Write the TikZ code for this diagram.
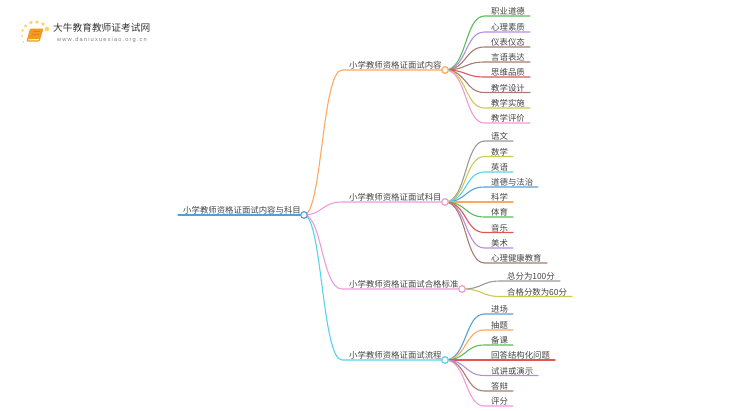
\documentclass[tikz,border=0pt]{standalone}
\usepackage{fontspec}
\setmainfont{Noto Sans CJK SC}
\newfontfamily\latinfont{Liberation Sans}
\definecolor{cgreen}{HTML}{5CBB5C}
\definecolor{cpurple}{HTML}{B48FDC}
\definecolor{cbrown}{HTML}{A87C70}
\definecolor{cred}{HTML}{E25555}
\definecolor{colive}{HTML}{CBCB50}
\definecolor{cpink}{HTML}{F29AD8}
\definecolor{cgray}{HTML}{9A9A9A}
\definecolor{ccyan}{HTML}{55D5E8}
\definecolor{cblue}{HTML}{5A9FD4}
\definecolor{corange}{HTML}{FFA860}
\definecolor{ctext}{HTML}{444444}
\definecolor{cbook}{HTML}{F09A20}
\definecolor{csun}{HTML}{FBD36A}
\tikzset{
  lbl/.style={anchor=base west,inner sep=0pt,text=ctext,font=\fontsize{8.4}{10}\selectfont},
  hub/.style={circle,draw=#1,fill=white,line width=1.1pt,minimum size=6.5pt,inner sep=0pt},
  wire/.style={line width=1.1pt,line cap=round},
}
\newcommand{\leafcurve}[7]{% hub, id, y, endx, colour, text, kneex
  \coordinate (#2s) at (#7,#3);
  \coordinate (#2e) at (#4,#3);
  \node[lbl] (#2) at ([xshift=6.5pt,yshift=1.4pt]#2s) {#6};
  \draw[wire,#5] (#1.center) .. controls ([xshift=22pt]#1.center) and ([xshift=-20pt]#2s) .. (#2s) -- (#2e);
}
\begin{document}
\begin{tikzpicture}[x=1pt,y=-1pt]
\useasboundingbox (0,0) rectangle (750,410);
% logo
\foreach \n/\px/\py/\r in {a/23.5/42/.9,b/22/36/1.1,c/22.5/30.5/1.4,d/25.5/26/1.7,e/31/22.5/1.9,f/37/22/1.9,g/43/24/1.9,h/47/29/2.2}
  \fill[csun] (\px,\py) circle (\r);
\fill[cbook,rounded corners=1pt] (30,28.5) -- (43.5,28.5) -- (39.5,41.5) -- (26.5,41.5) -- cycle;
\fill[white,opacity=.8] (28.5,39.2) -- (39,39.2) -- (38.7,40.4) -- (28.2,40.4) -- cycle;
\draw[orange!60!brown,line width=.6pt] (33,31.5) -- (40,31.5) (32.4,34) -- (39.2,34);
\node[inner sep=0pt,anchor=base west,text=black!80,font=\fontsize{9.7}{11}\selectfont] (title) at (53,31.5) {大牛教育教师证考试网};
\node[inner sep=0pt,anchor=base west,text=black!50,font=\latinfont\fontsize{5.7}{7}\selectfont] (url) at (57,41.5) {\addfontfeature{LetterSpace=20}www.daniuxuexiao.org.cn};
% hubs
\node[hub=cblue] (root) at (304,215) {};
\node[hub=corange] (h1) at (445,70) {};
\node[hub=cpink] (h2) at (445,202) {};
\node[hub=cpink] (h3) at (462,289) {};
\node[hub=ccyan] (h4) at (445,360) {};
\coordinate (r0) at (178,215);
\node[lbl] (rt) at (183,213) {小学教师资格证面试内容与科目};
\node[lbl] (t1) at (349,68) {小学教师资格证面试内容};
\node[lbl] (t2) at (349,200) {小学教师资格证面试科目};
\node[lbl] (t3) at (349,287) {小学教师资格证面试合格标准};
\node[lbl] (t4) at (349,358) {小学教师资格证面试流程};
\draw[wire,cblue] (r0) -- (root);
\foreach \h/\c/\yy in {h1/corange/70,h2/cpink/202,h3/cpink/289,h4/ccyan/360}{
  \coordinate (k\h) at (342,\yy);
  \draw[wire,\c] (root.center) .. controls ([xshift=18pt]root.center) and ([xshift=-20pt]k\h) .. (k\h) -- (\h.center);
}
\node[hub=cblue] at (root) {};
% branch 1
\leafcurve{h1}{a1}{16}{530}{cgreen}{职业道德}{484.5}
\leafcurve{h1}{a2}{32}{530}{cpurple}{心理素质}{484.5}
\leafcurve{h1}{a3}{47}{530}{cbrown}{仪表仪态}{484.5}
\leafcurve{h1}{a4}{62}{530}{cbrown}{言语表达}{484.5}
\leafcurve{h1}{a5}{77}{530}{cred}{思维品质}{484.5}
\leafcurve{h1}{a6}{92.5}{530}{cbrown}{教学设计}{484.5}
\leafcurve{h1}{a7}{108}{530}{colive}{教学实施}{484.5}
\leafcurve{h1}{a8}{123}{530}{cpink}{教学评价}{484.5}
\node[hub=corange] at (h1) {};
% branch 2
\leafcurve{h2}{b1}{141}{513}{cgray}{语文}{484.5}
\leafcurve{h2}{b2}{156.5}{513}{colive}{数学}{484.5}
\leafcurve{h2}{b3}{172}{513}{ccyan}{英语}{484.5}
\leafcurve{h2}{b4}{187}{538}{cblue}{道德与法治}{484.5}
\leafcurve{h2}{b5}{202}{513}{corange}{科学}{484.5}
\leafcurve{h2}{b6}{217}{513}{cgreen}{体育}{484.5}
\leafcurve{h2}{b7}{232.5}{513}{cred}{音乐}{484.5}
\leafcurve{h2}{b8}{248}{513}{cpurple}{美术}{484.5}
\leafcurve{h2}{b9}{263}{547}{cbrown}{心理健康教育}{484.5}
\node[hub=cpink] at (h2) {};
% branch 3
\leafcurve{h3}{c1}{281}{560}{cgray}{总分为100分}{500.5}
\leafcurve{h3}{c2}{296.5}{572}{colive}{合格分数为60分}{500.5}
\node[hub=cpink] at (h3) {};
% branch 4
\leafcurve{h4}{d1}{314}{513}{cblue}{进场}{484.5}
\leafcurve{h4}{d2}{330}{513}{corange}{抽题}{484.5}
\leafcurve{h4}{d3}{345}{513}{cgreen}{备课}{484.5}
\leafcurve{h4}{d4}{360}{555}{cred}{回答结构化问题}{484.5}
\leafcurve{h4}{d5}{375.5}{538}{cpurple}{试讲或演示}{484.5}
\leafcurve{h4}{d6}{391}{513}{cbrown}{答辩}{484.5}
\leafcurve{h4}{d7}{406}{513}{cpink}{评分}{484.5}
\node[hub=ccyan] at (h4) {};
\end{tikzpicture}
\end{document}
